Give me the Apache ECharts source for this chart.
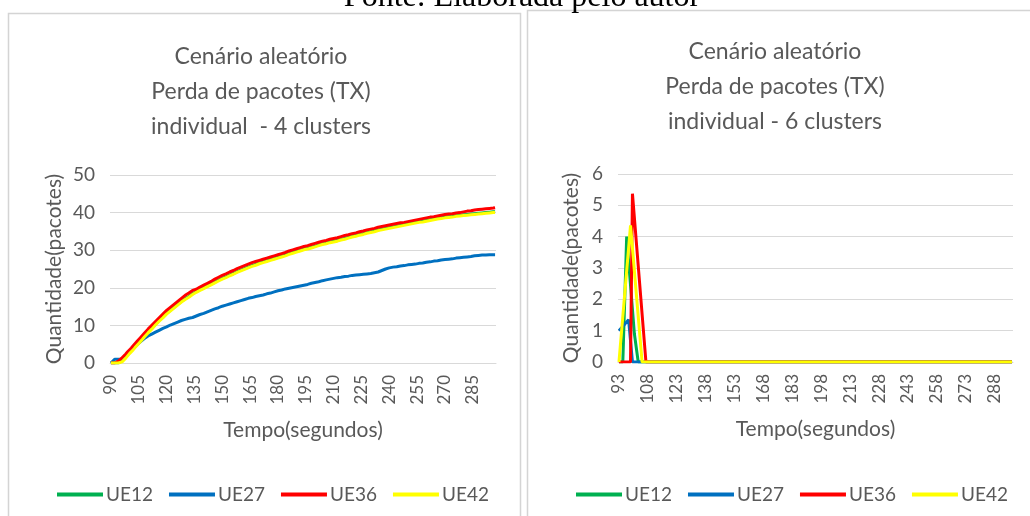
<!DOCTYPE html>
<html>
<head>
<meta charset="utf-8">
<script src="https://cdn.jsdelivr.net/npm/echarts@6/dist/echarts.min.js"></script>
<style>
html,body{margin:0;padding:0;background:#fff;}
#chart{width:1030px;height:516px;}
</style>
</head>
<body>
<div id="chart"></div>
<script>
// ---------- DATA ----------
const seriesNames = ['UE12', 'UE27', 'UE36', 'UE42'];
const seriesColors = ['#00B050', '#0070C0', '#FF0000', '#FFFF00'];

// Left chart: seconds 90..297
const secondsLeft = [];
for (let s = 90; s <= 297; s++) secondsLeft.push(String(s));
// Right chart: seconds 93..297
const secondsRight = [];
for (let s = 93; s <= 297; s++) secondsRight.push(String(s));

const yTicksLeft = [0, 10, 20, 30, 40, 50];
const yTicksRight = [0, 1, 2, 3, 4, 5, 6];

// 4 clusters (lost packets), rows of 10 seconds starting at 90
const ue12_4 = [
  0,0,0,0,0,0.2,0.6,1.1,1.6,2.1,
  2.7,3.2,3.8,4.3,4.9,5.4,6.0,6.5,7.1,7.6,
  8.2,8.7,9.2,9.7,10.3,10.8,11.3,11.8,12.2,12.7,
  13.2,13.6,14.0,14.4,14.8,15.2,15.6,16.0,16.4,16.7,
  17.1,17.4,17.7,18.1,18.4,18.7,19.0,19.2,19.5,19.7,
  20.0,20.3,20.5,20.8,21.0,21.3,21.5,21.8,22.0,22.3,
  22.5,22.7,22.9,23.2,23.4,23.6,23.8,24.0,24.3,24.5,
  24.7,24.9,25.1,25.3,25.5,25.7,25.9,26.1,26.2,26.4,
  26.6,26.8,26.9,27.1,27.2,27.4,27.5,27.7,27.8,28.0,
  28.1,28.3,28.4,28.6,28.7,28.9,29.1,29.2,29.4,29.5,
  29.7,29.8,30.0,30.1,30.3,30.4,30.5,30.7,30.8,31.0,
  31.1,31.2,31.4,31.5,31.7,31.8,31.9,32.0,32.2,32.3,
  32.4,32.5,32.6,32.8,32.9,33.0,33.1,33.3,33.4,33.6,
  33.7,33.8,33.9,34.1,34.2,34.3,34.4,34.5,34.7,34.8,
  34.9,35.0,35.1,35.3,35.4,35.5,35.6,35.7,35.8,35.9,
  36.0,36.1,36.2,36.3,36.4,36.5,36.6,36.7,36.8,36.9,
  37.0,37.1,37.2,37.3,37.4,37.5,37.6,37.6,37.7,37.8,
  37.9,38.0,38.1,38.2,38.3,38.4,38.5,38.5,38.6,38.7,
  38.8,38.9,38.9,39.0,39.0,39.1,39.2,39.2,39.3,39.3,
  39.4,39.5,39.5,39.6,39.6,39.7,39.7,39.8,39.8,39.9,
  39.9,40.0,40.0,40.0,40.1,40.1,40.2,40.2
];
const ue27_4 = [
  0,0.5,1.0,1.0,1.0,1.0,1.0,1.5,2.0,2.5,
  3.0,3.5,3.9,4.4,4.8,5.3,5.7,6.1,6.5,6.8,
  7.2,7.5,7.7,8.0,8.2,8.5,8.7,8.9,9.2,9.4,
  9.6,9.8,10.1,10.3,10.5,10.7,10.9,11.1,11.3,11.4,
  11.6,11.7,11.9,11.9,12.1,12.3,12.5,12.7,12.9,13.0,
  13.2,13.4,13.6,13.8,14.0,14.2,14.4,14.6,14.7,14.9,
  15.1,15.3,15.4,15.6,15.7,15.9,16.0,16.2,16.3,16.5,
  16.6,16.7,16.9,17.0,17.2,17.3,17.4,17.5,17.7,17.8,
  17.9,18.0,18.1,18.3,18.4,18.5,18.6,18.8,18.9,19.1,
  19.2,19.3,19.4,19.6,19.7,19.8,19.9,20.0,20.1,20.2,
  20.3,20.4,20.5,20.6,20.7,20.8,20.9,21.1,21.2,21.3,
  21.4,21.5,21.6,21.8,21.9,22.0,22.1,22.2,22.3,22.4,
  22.5,22.6,22.7,22.7,22.8,22.9,23.0,23.1,23.1,23.2,
  23.3,23.4,23.4,23.5,23.5,23.6,23.6,23.7,23.7,23.8,
  23.8,23.9,24.0,24.1,24.2,24.4,24.6,24.8,25.0,25.2,
  25.3,25.4,25.5,25.5,25.6,25.7,25.8,25.9,25.9,26.0,
  26.1,26.1,26.2,26.3,26.3,26.4,26.5,26.6,26.6,26.7,
  26.8,26.9,26.9,27.0,27.1,27.2,27.2,27.3,27.4,27.4,
  27.5,27.6,27.6,27.7,27.7,27.8,27.9,27.9,28.0,28.0,
  28.1,28.2,28.2,28.3,28.3,28.4,28.5,28.5,28.6,28.6,
  28.7,28.7,28.7,28.8,28.8,28.8,28.8,28.8
];
const ue36_4 = [
  0,0,0,0,0.5,1.0,1.4,1.9,2.4,3.0,
  3.5,4.0,4.6,5.1,5.7,6.2,6.8,7.3,7.9,8.4,
  9.0,9.5,10.0,10.5,11.0,11.5,12.0,12.5,13.0,13.5,
  14.0,14.4,14.8,15.2,15.6,16.0,16.4,16.8,17.2,17.6,
  18.0,18.3,18.6,18.9,19.3,19.4,19.6,20.0,20.2,20.5,
  20.7,21.0,21.2,21.5,21.7,22.0,22.3,22.5,22.8,23.0,
  23.3,23.5,23.7,23.9,24.2,24.4,24.6,24.8,25.1,25.3,
  25.5,25.7,25.9,26.1,26.3,26.5,26.7,26.8,27.0,27.1,
  27.3,27.5,27.6,27.8,27.9,28.1,28.2,28.4,28.5,28.7,
  28.8,29.0,29.1,29.3,29.4,29.6,29.8,29.9,30.1,30.2,
  30.4,30.5,30.7,30.8,31.0,31.1,31.2,31.4,31.5,31.7,
  31.8,32.0,32.1,32.2,32.4,32.5,32.6,32.7,32.9,33.0,
  33.1,33.2,33.3,33.5,33.6,33.7,33.9,34.0,34.1,34.3,
  34.4,34.5,34.6,34.8,34.9,35.0,35.1,35.2,35.4,35.5,
  35.6,35.7,35.8,36.0,36.1,36.2,36.3,36.4,36.5,36.6,
  36.7,36.8,36.9,37.0,37.1,37.2,37.3,37.4,37.4,37.5,
  37.6,37.7,37.8,37.9,38.0,38.1,38.2,38.3,38.4,38.5,
  38.6,38.7,38.8,38.8,38.9,39.0,39.1,39.2,39.3,39.4,
  39.5,39.5,39.6,39.7,39.7,39.8,39.9,40.0,40.0,40.1,
  40.2,40.3,40.4,40.4,40.5,40.6,40.7,40.7,40.8,40.8,
  40.9,41.0,41.0,41.1,41.1,41.2,41.2,41.3
];
const ue42_4 = [
  0,0,0,0,0,0,0.3,0.8,1.3,1.9,
  2.5,3.0,3.5,4.1,4.6,5.2,5.7,6.3,6.9,7.4,
  8.0,8.5,9.0,9.5,10.1,10.6,11.1,11.6,12.0,12.5,
  13.0,13.4,13.8,14.2,14.6,15.0,15.4,15.8,16.2,16.5,
  16.9,17.2,17.5,17.9,18.2,18.5,18.8,19.0,19.3,19.5,
  19.8,20.1,20.3,20.6,20.8,21.1,21.3,21.6,21.8,22.1,
  22.3,22.5,22.7,23.0,23.2,23.4,23.6,23.8,24.1,24.3,
  24.5,24.7,24.9,25.1,25.3,25.5,25.7,25.9,26.0,26.2,
  26.4,26.6,26.7,26.9,27.0,27.2,27.3,27.5,27.6,27.8,
  27.9,28.1,28.2,28.4,28.5,28.7,28.9,29.0,29.2,29.3,
  29.5,29.6,29.8,29.9,30.1,30.2,30.3,30.5,30.6,30.8,
  30.9,31.0,31.2,31.3,31.5,31.6,31.7,31.8,32.0,32.1,
  32.2,32.3,32.4,32.6,32.7,32.8,32.9,33.1,33.2,33.4,
  33.5,33.6,33.7,33.9,34.0,34.1,34.2,34.3,34.5,34.6,
  34.7,34.8,34.9,35.1,35.2,35.3,35.4,35.5,35.6,35.7,
  35.8,35.9,36.0,36.1,36.2,36.3,36.4,36.5,36.6,36.7,
  36.8,36.9,37.0,37.1,37.2,37.3,37.4,37.4,37.5,37.6,
  37.7,37.8,37.9,38.0,38.1,38.2,38.3,38.3,38.4,38.5,
  38.6,38.7,38.7,38.8,38.8,38.9,39.0,39.0,39.1,39.1,
  39.2,39.3,39.3,39.4,39.4,39.5,39.5,39.6,39.6,39.7,
  39.7,39.8,39.8,39.8,39.9,39.9,40.0,40.0
];

// 6 clusters, rows of 10 seconds starting at 93 (null = no reading, segment joined)
const ue12_6 = [
  0,0,0,null,4.0,null,null,null,0.9,null,
  0,0,0,0,0,0,0,0,0,0,
  0,0,0,0,0,0,0,0,0,0,
  0,0,0,0,0,0,0,0,0,0,
  0,0,0,0,0,0,0,0,0,0,
  0,0,0,0,0,0,0,0,0,0,
  0,0,0,0,0,0,0,0,0,0,
  0,0,0,0,0,0,0,0,0,0,
  0,0,0,0,0,0,0,0,0,0,
  0,0,0,0,0,0,0,0,0,0,
  0,0,0,0,0,0,0,0,0,0,
  0,0,0,0,0,0,0,0,0,0,
  0,0,0,0,0,0,0,0,0,0,
  0,0,0,0,0,0,0,0,0,0,
  0,0,0,0,0,0,0,0,0,0,
  0,0,0,0,0,0,0,0,0,0,
  0,0,0,0,0,0,0,0,0,0,
  0,0,0,0,0,0,0,0,0,0,
  0,0,0,0,0,0,0,0,0,0,
  0,0,0,0,0,0,0,0,0,0,
  0,0,0,0,0
];
const ue27_6 = [
  1.0,null,null,null,null,1.35,null,0,0,0,
  0,0,0,0,0,0,0,0,0,0,
  0,0,0,0,0,0,0,0,0,0,
  0,0,0,0,0,0,0,0,0,0,
  0,0,0,0,0,0,0,0,0,0,
  0,0,0,0,0,0,0,0,0,0,
  0,0,0,0,0,0,0,0,0,0,
  0,0,0,0,0,0,0,0,0,0,
  0,0,0,0,0,0,0,0,0,0,
  0,0,0,0,0,0,0,0,0,0,
  0,0,0,0,0,0,0,0,0,0,
  0,0,0,0,0,0,0,0,0,0,
  0,0,0,0,0,0,0,0,0,0,
  0,0,0,0,0,0,0,0,0,0,
  0,0,0,0,0,0,0,0,0,0,
  0,0,0,0,0,0,0,0,0,0,
  0,0,0,0,0,0,0,0,0,0,
  0,0,0,0,0,0,0,0,0,0,
  0,0,0,0,0,0,0,0,0,0,
  0,0,0,0,0,0,0,0,0,0,
  0,0,0,0,0
];
const ue36_6 = [
  0,0,0,0,0,0,0,5.37,null,null,
  null,null,null,null,0,0,0,0,0,0,
  0,0,0,0,0,0,0,0,0,0,
  0,0,0,0,0,0,0,0,0,0,
  0,0,0,0,0,0,0,0,0,0,
  0,0,0,0,0,0,0,0,0,0,
  0,0,0,0,0,0,0,0,0,0,
  0,0,0,0,0,0,0,0,0,0,
  0,0,0,0,0,0,0,0,0,0,
  0,0,0,0,0,0,0,0,0,0,
  0,0,0,0,0,0,0,0,0,0,
  0,0,0,0,0,0,0,0,0,0,
  0,0,0,0,0,0,0,0,0,0,
  0,0,0,0,0,0,0,0,0,0,
  0,0,0,0,0,0,0,0,0,0,
  0,0,0,0,0,0,0,0,0,0,
  0,0,0,0,0,0,0,0,0,0,
  0,0,0,0,0,0,0,0,0,0,
  0,0,0,0,0,0,0,0,0,0,
  0,0,0,0,0,0,0,0,0,0,
  0,0,0,0,0
];
const ue42_6 = [
  0,null,null,null,null,null,4.36,null,null,null,
  null,null,0,0,0,0,0,0,0,0,
  0,0,0,0,0,0,0,0,0,0,
  0,0,0,0,0,0,0,0,0,0,
  0,0,0,0,0,0,0,0,0,0,
  0,0,0,0,0,0,0,0,0,0,
  0,0,0,0,0,0,0,0,0,0,
  0,0,0,0,0,0,0,0,0,0,
  0,0,0,0,0,0,0,0,0,0,
  0,0,0,0,0,0,0,0,0,0,
  0,0,0,0,0,0,0,0,0,0,
  0,0,0,0,0,0,0,0,0,0,
  0,0,0,0,0,0,0,0,0,0,
  0,0,0,0,0,0,0,0,0,0,
  0,0,0,0,0,0,0,0,0,0,
  0,0,0,0,0,0,0,0,0,0,
  0,0,0,0,0,0,0,0,0,0,
  0,0,0,0,0,0,0,0,0,0,
  0,0,0,0,0,0,0,0,0,0,
  0,0,0,0,0,0,0,0,0,0,
  0,0,0,0,0
];

const titleLeft = ['Cenário aleatório', 'Perda de pacotes (TX)', 'individual  - 4 clusters'];
const titleRight = ['Cenário aleatório', 'Perda de pacotes (TX)', 'individual - 6 clusters'];
const yName = 'Quantidade(pacotes)';
const xName = 'Tempo(segundos)';
const caption = 'Fonte: Elaborada pelo autor';

// ---------- CHART ----------
const FONT = 'Lato';
const GREY = '#595959';
const GRID = '#d9d9d9';

const chart = echarts.init(document.getElementById('chart'), null, {renderer: 'canvas'});

function xAxisCfg(gridIndex, cats) {
  return {
    type: 'category', gridIndex: gridIndex, data: cats, boundaryGap: true,
    name: xName, nameLocation: 'middle', nameGap: 57,
    nameTextStyle: {color: GREY, fontSize: 21, fontFamily: FONT},
    axisLine: {show: true, lineStyle: {color: GRID, width: 1}},
    axisTick: {show: false},
    axisLabel: {interval: 14, rotate: 90, margin: 12, color: GREY, fontSize: 17, fontFamily: FONT},
    splitLine: {show: false}
  };
}
function yAxisCfg(gridIndex, ticks, gap) {
  return {
    type: 'value', gridIndex: gridIndex,
    min: ticks[0], max: ticks[ticks.length - 1], interval: ticks[1] - ticks[0],
    name: yName, nameLocation: 'middle', nameGap: gap,
    nameTextStyle: {color: GREY, fontSize: 21, fontFamily: FONT},
    axisLine: {show: false}, axisTick: {show: false},
    axisLabel: {color: GREY, fontSize: 19, fontFamily: FONT, margin: 15},
    splitLine: {show: true, lineStyle: {color: GRID, width: 1}}
  };
}

const leftData = [ue12_4, ue27_4, ue36_4, ue42_4];
const rightData = [ue12_6, ue27_6, ue36_6, ue42_6];
const series = [];
seriesNames.forEach((n, i) => {
  series.push({
    name: n, type: 'line', xAxisIndex: 0, yAxisIndex: 0, data: leftData[i],
    showSymbol: false, symbol: 'none', lineStyle: {width: 3, color: seriesColors[i]},
    itemStyle: {color: seriesColors[i]}, z: 2 + i
  });
});
seriesNames.forEach((n, i) => {
  series.push({
    name: n, type: 'line', xAxisIndex: 1, yAxisIndex: 1, data: rightData[i],
    connectNulls: true,
    showSymbol: false, symbol: 'none', lineStyle: {width: 3, color: seriesColors[i]},
    itemStyle: {color: seriesColors[i]}, z: 2 + i
  });
});

function titleTexts(lines, cx, y0) {
  return lines.map((t, i) => ({
    type: 'text', x: cx, y: y0 + i * 35, silent: true,
    style: {text: t, fill: GREY, font: '23px ' + FONT, textAlign: 'center', textVerticalAlign: 'middle'}
  }));
}

const legendBase = {
  data: seriesNames, icon: 'rect', itemWidth: 46, itemHeight: 4, itemGap: 16,
  top: 480, selectedMode: false,
  textStyle: {color: GREY, fontSize: 19, fontFamily: FONT, padding: [0, 0, 0, -2]}
};

chart.setOption({
  animation: false,
  backgroundColor: '#fff',
  grid: [
    {left: 110, right: 534, top: 175, bottom: 153},
    {left: 618, right: 17, top: 174, bottom: 154}
  ],
  xAxis: [xAxisCfg(0, secondsLeft), xAxisCfg(1, secondsRight)],
  yAxis: [yAxisCfg(0, yTicksLeft, 45), yAxisCfg(1, yTicksRight, 36)],
  legend: [
    Object.assign({}, legendBase, {left: 52}),
    Object.assign({}, legendBase, {left: 571})
  ],
  series: series,
  graphic: [
    {type: 'rect', silent: true, shape: {x: 8.5, y: 13.5, width: 512, height: 530},
     style: {fill: 'none', stroke: '#d4d4d4', lineWidth: 1.5}},
    {type: 'rect', silent: true, shape: {x: 527.5, y: 10.5, width: 530, height: 530},
     style: {fill: 'none', stroke: '#d4d4d4', lineWidth: 1.5}},
    {type: 'text', x: 522, y: 14, silent: true,
     style: {text: caption, fill: '#000', font: '32px "Liberation Serif"', textAlign: 'center', textVerticalAlign: 'bottom'}}
  ].concat(titleTexts(titleLeft, 261, 57)).concat(titleTexts(titleRight, 775, 52))
});
</script>
</body>
</html>
